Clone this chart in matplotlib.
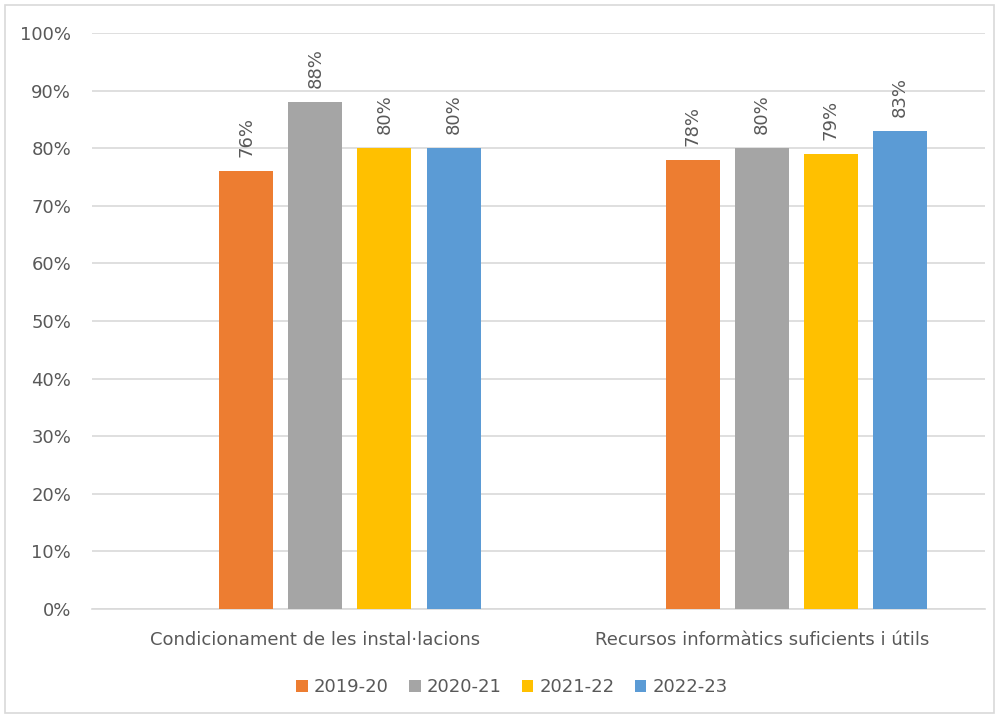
import matplotlib.pyplot as plt
from matplotlib.patches import Rectangle
import numpy as np

# Data
categories = ['Condicionament de les instal·lacions', 'Recursos informàtics suficients i útils']
series_names = ['2019-20', '2020-21', '2021-22', '2022-23']
values_2019 = [0.76, 0.78]
values_2020 = [0.88, 0.80]
values_2021 = [0.80, 0.79]
values_2022 = [0.80, 0.83]
series_values = [values_2019, values_2020, values_2021, values_2022]

colors = ['#ED7D31', '#A5A5A5', '#FFC000', '#5B9BD5']
text_color = '#595959'

plt.rcParams['font.family'] = ['DejaVu Sans']

fig = plt.figure(figsize=(9.99, 7.18), dpi=100)
ax = fig.add_axes([92 / 999, 1 - 609 / 718, (985 - 92) / 999, (609 - 33) / 718])

# outer border of the chart area
fig.patches.append(Rectangle((5 / 999, 5 / 718), 989 / 999, 708 / 718,
                             transform=fig.transFigure, fill=False,
                             edgecolor='#D9D9D9', linewidth=1.2))

x = np.arange(len(categories))
slot = 0.155
width = 0.121
# five slots per category, first one is empty
for k, (name, vals) in enumerate(zip(series_names, series_values)):
    pos = x + (k + 1 - 2) * slot
    bars = ax.bar(pos, vals, width=width, color=colors[k], label=name, zorder=3)
    for b, v in zip(bars, vals):
        ax.annotate(f'{v:.0%}', (b.get_x() + b.get_width() / 2, v),
                    xytext=(0, 10), textcoords='offset points',
                    rotation=90, ha='center', va='bottom',
                    fontsize=13, color=text_color)

ax.set_xlim(-0.5, 1.5)
ax.set_ylim(0, 1.0)
ax.set_yticks(np.arange(0, 1.01, 0.1))
ax.set_yticklabels([f'{int(round(t * 100))}%' for t in np.arange(0, 1.01, 0.1)])
ax.set_xticks(x)
ax.set_xticklabels(categories)
ax.tick_params(axis='both', length=0, labelsize=13, colors=text_color)
ax.tick_params(axis='x', pad=16)
ax.tick_params(axis='y', pad=15)
ax.grid(axis='y', color='#D9D9D9', linewidth=1.2, zorder=0)
for s in ['top', 'right', 'left']:
    ax.spines[s].set_visible(False)
ax.spines['bottom'].set_color('#D9D9D9')
ax.spines['bottom'].set_linewidth(1.2)

leg = fig.legend(loc='center', bbox_to_anchor=(512 / 999, 1 - 687 / 718), ncol=4,
                 frameon=False, fontsize=13, handlelength=0.65, handleheight=0.65,
                 handletextpad=0.35, columnspacing=1.1)
for t in leg.get_texts():
    t.set_color(text_color)

plt.savefig('out.png', dpi=100)
plt.close()
